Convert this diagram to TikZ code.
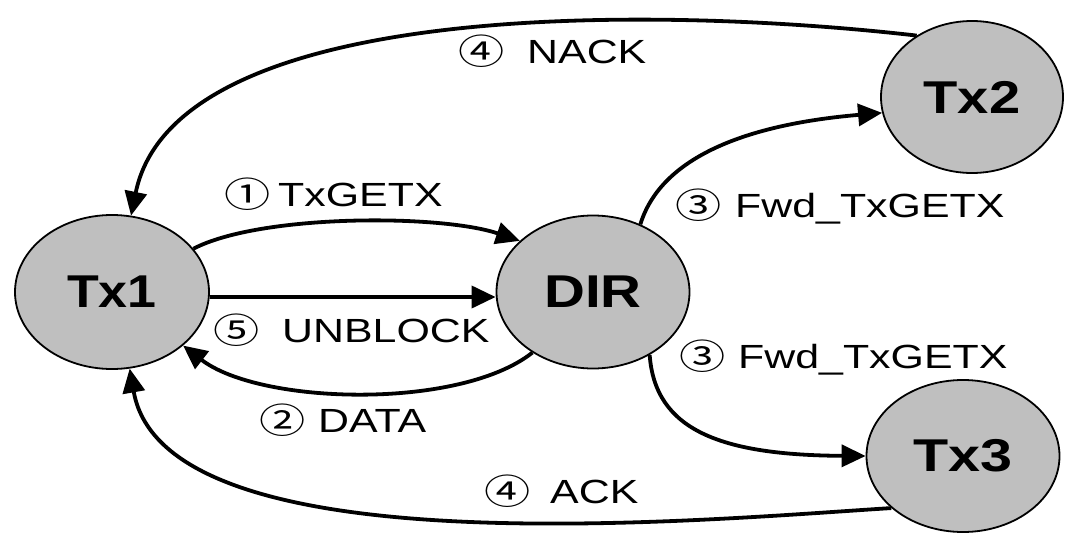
\documentclass[tikz,border=0pt]{standalone}
\usepackage{fontspec}
\setmainfont{Liberation Sans}
\newfontfamily\circfont{Noto Sans CJK SC}
\usepackage{graphicx}
\usetikzlibrary{shapes.geometric,arrows.meta}
\definecolor{nodegray}{RGB}{191,191,191}
\newcommand\sx[2]{\scalebox{#1}[1]{#2}}
\newcommand\cd[1]{\kern-3pt\raisebox{-1pt}{\scalebox{1.32}[1]{\fontsize{35}{40}\circfont #1}}}
\newcommand\lab[3]{\makebox[#1pt][l]{\cd{#2}}\sx{1.28}{#3}}
\tikzset{
  state/.style={ellipse, draw=black, line width=1.8pt, fill=nodegray,
    inner sep=0pt, minimum width=192pt, minimum height=152pt,
    font=\fontsize{46}{50}\selectfont\bfseries},
  msg/.style={line width=3.8pt, -{Triangle[length=24pt,width=22pt]}},
  lbl/.style={inner sep=0pt, anchor=base west, font=\fontsize{33.5}{38}\selectfont},
}
\begin{document}
\begin{tikzpicture}[x=1pt,y=-1pt]
\useasboundingbox (0,0) rectangle (1066,533);
% nodes
\node[state, minimum width=194pt, minimum height=154pt] (tx1) at (112,292) {\sx{1.13}{Tx1}};
\node[state, minimum width=193pt, minimum height=153pt] (dir) at (593,292) {\sx{1.23}{DIR}};
\node[state, minimum width=182pt] (tx2) at (972,97) {\sx{1.22}{Tx2}};
\node[state, minimum width=193pt] (tx3) at (963,456) {\sx{1.25}{Tx3}};
% connectors
\draw[msg] (tx2.132.5) .. controls (650,5) and (175,0) .. (tx1.76.8);
\draw[msg] (tx1.28.5) .. controls (260,214) and (440,214) .. (dir.145);
\draw[msg] ([yshift=-5pt]tx1.east) -- ([yshift=-5pt]dir.west);
\draw[msg] (dir.225) .. controls (460,410) and (260,405) .. (tx1.323);
\draw[msg] (dir.55) .. controls (660,160) and (740,125) .. (tx2.190);
\draw[msg] (dir.312.6) .. controls (655,430) and (720,455) .. (tx3.180);
\draw[msg] (tx3.216.6) .. controls (700,520) and (165,570) .. (tx1.283);
% labels
\node[lbl] (lnack) at (461,63) {\lab{66}{④}{NACK}};
\node[lbl] (lgetx) at (227,206) {\lab{51}{①}{TxGETX}};
\node[lbl] (lunbl) at (216,342) {\lab{66}{⑤}{UNBLOCK}};
\node[lbl] (ldata) at (262,432) {\lab{56}{②}{DATA}};
\node[lbl] (lfwda) at (678,217) {\lab{57}{③}{Fwd\_TxGETX}};
\node[lbl] (lfwdb) at (682,368) {\lab{56}{③}{Fwd\_TxGETX}};
\node[lbl] (lack) at (487,503) {\lab{63}{④}{ACK}};
\end{tikzpicture}
\end{document}
